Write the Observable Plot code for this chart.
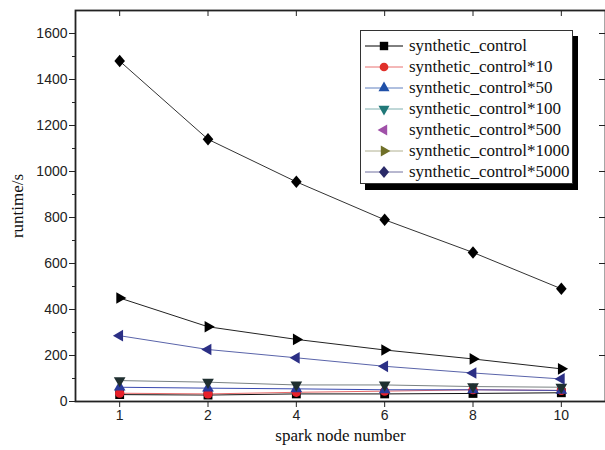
<!DOCTYPE html>
<html>
<head>
<meta charset="utf-8">
<script src="https://cdn.jsdelivr.net/npm/d3@7"></script>
<script src="https://cdn.jsdelivr.net/npm/@observablehq/plot@0.6"></script>
<style>
  html, body { margin: 0; padding: 0; background: #fff; }
  #wrap { position: relative; width: 605px; height: 450px; overflow: hidden; }
  #legend { position: absolute; left: 360px; top: 30px; width: 211px; height: 148px;
    border: 1px solid #333; background: #fff; box-shadow: 5px 6px 0 #000;
    color: #111; padding-top: 4px; box-sizing: content-box; }
  .row { display: flex; align-items: center; height: 21.1px; }
  .row svg { flex: none; margin-left: 4px; margin-right: 5px; }
</style>
</head>
<body>
<div id="wrap"></div>
<script>
// ---- data ----
const xLabels = ["1", "2", "4", "6", "8", "10"];
const seriesNames = ["synthetic_control", "synthetic_control*10", "synthetic_control*50",
  "synthetic_control*100", "synthetic_control*500", "synthetic_control*1000", "synthetic_control*5000"];
const s1    = [30, 28, 33, 33, 35, 38];
const s10   = [36, 33, 40, 45, 51, 48];
const s50   = [62, 58, 55, 51, 51, 48];
const s100  = [91, 84, 72, 72, 65, 62];
const s500  = [286, 226, 190, 153, 124, 98];
const s1000 = [450, 325, 270, 224, 185, 142];
const s5000 = [1480, 1140, 955, 790, 648, 490];
const yMajor = [0, 200, 400, 600, 800, 1000, 1200, 1400, 1600];
const yMinor = [100, 300, 500, 700, 900, 1100, 1300, 1500];

const seriesValues = [s1, s10, s50, s100, s500, s1000, s5000];

// ---- symbols ----
function tri(ang) {
  return { draw(ctx, size) {
    const R = Math.sqrt(size / Math.PI) * 1.25;
    for (let k = 0; k < 3; k++) {
      const a = ang + k * 2 * Math.PI / 3;
      const x = R * Math.cos(a), y = R * Math.sin(a);
      if (k === 0) ctx.moveTo(x, y); else ctx.lineTo(x, y);
    }
    ctx.closePath();
  }};
}
const diamond = { draw(ctx, size) {
  const R = Math.sqrt(size / Math.PI) * 1.2;
  ctx.moveTo(0, -R); ctx.lineTo(R * 0.85, 0); ctx.lineTo(0, R); ctx.lineTo(-R * 0.85, 0); ctx.closePath();
}};
const symbols = ["square", "circle", tri(-Math.PI / 2), tri(Math.PI / 2), tri(Math.PI), tri(0), diamond];
const radii = [5, 4.6, 5.4, 5.4, 5.4, 5.4, 5.2];

// plot styling
const markColors = ["#000", "#e8202a", "#2a3a9a", "#1f2f30", "#2b2f85", "#000", "#000"];
const lineColors = ["#111", "#e86a6a", "#3a4ab0", "#7a8282", "#5a64aa", "#222", "#333"];
// legend styling
const legMark = ["#000", "#e0302a", "#2050a8", "#207878", "#a050a8", "#707028", "#2a2a68"];
const legLine = ["#000", "#e87070", "#6080c0", "#80b0b0", null, "#b0b090", "#7070a0"];

const table = seriesNames.map((name, si) => seriesValues[si].map((v, i) => ({ series: name, si, i, v })));

const marks = [];
table.forEach((rows, si) => {
  marks.push(Plot.line(rows, { x: "i", y: "v", stroke: lineColors[si], strokeWidth: 1 }));
});
table.forEach((rows, si) => {
  marks.push(Plot.dot(rows, { x: "i", y: "v", symbol: symbols[si], r: radii[si], fill: markColors[si], stroke: "none" }));
});

const sans = "'Liberation Sans', Arial, sans-serif";
const serif = "'Liberation Serif', 'Times New Roman', serif";

const chart = Plot.plot({
  width: 605, height: 450,
  marginTop: 10, marginBottom: 49, marginLeft: 75, marginRight: 0,
  style: { background: "#fff", color: "#222" },
  x: { type: "linear", domain: [-0.5, 5.5] },
  y: { domain: [0, 1700] },
  marks: [
    Plot.axisX({ ticks: [0, 1, 2, 3, 4, 5], tickFormat: i => xLabels[i], tickSize: 6, tickPadding: 3,
      fontSize: 14, fontFamily: sans, label: null, stroke: "#222" }),
    Plot.axisY({ ticks: yMajor, tickSize: 6, tickPadding: 2, fontSize: 14, fontFamily: sans, label: null, tickFormat: d => String(d) }),
    Plot.axisY({ ticks: yMinor, tickSize: 3, text: null, label: null }),
    Plot.ruleY(yMajor.slice(1), { insetLeft: 524, stroke: "#222" }),
    Plot.ruleX([0, 1, 2, 3, 4, 5], { insetBottom: 385, stroke: "#222" }),
    ...marks,
    Plot.frame({ stroke: "#222", strokeWidth: 1.8 }),
    Plot.text(["spark node number"], { frameAnchor: "bottom", dy: 39, fontFamily: serif, fontSize: 17, fill: "#111" }),
    Plot.text(["runtime/s"], { frameAnchor: "left", rotate: -90, dx: -58, textAnchor: "middle", fontFamily: serif, fontSize: 17, fill: "#111" })
  ]
});

const wrap = document.getElementById("wrap");
wrap.appendChild(chart);

// ---- legend ----
const legend = document.createElement("div");
legend.id = "legend";
seriesNames.forEach((name, si) => {
  const row = document.createElement("div");
  row.className = "row";
  const svg = d3.create("svg").attr("width", 39).attr("height", 20);
  if (legLine[si]) svg.append("line").attr("x1", 0).attr("x2", 38).attr("y1", 10).attr("y2", 10)
    .attr("stroke", legLine[si]).attr("stroke-width", 1);
  const sym = typeof symbols[si] === "string" ? (symbols[si] === "square" ? d3.symbolSquare : d3.symbolCircle) : symbols[si];
  svg.append("path").attr("transform", "translate(19,10)")
    .attr("d", d3.symbol(sym, Math.PI * radii[si] * radii[si] * 0.9)())
    .attr("fill", legMark[si]);
  row.appendChild(svg.node());
  const t = document.createElement("span");
  t.textContent = name;
  t.style.fontFamily = serif;
  t.style.fontSize = "17px";
  t.style.whiteSpace = "nowrap";
  row.appendChild(t);
  legend.appendChild(row);
});
wrap.appendChild(legend);
</script>
</body>
</html>
